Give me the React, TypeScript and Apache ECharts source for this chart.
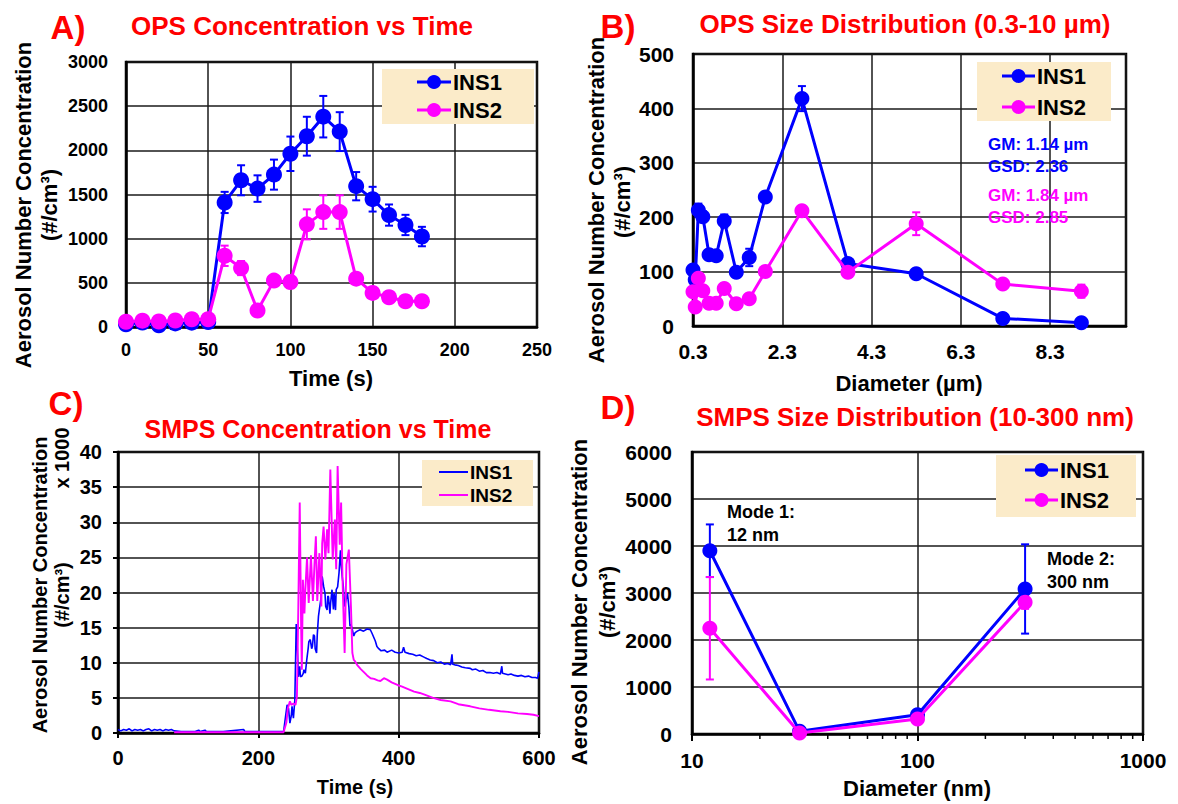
import React, { useEffect, useRef } from "react";
import * as echarts from "echarts";

const FONT = "'Liberation Sans', Arial, Helvetica, sans-serif";
const BLUE = "#0000ff";
const MAGENTA = "#ff00ff";
const RED = "#ff0000";
const LEGEND_BG = "#fbebc9";
const GRIDLINE = "#1a1a1a";

// ---------- Panel A : OPS concentration vs time ----------
const opsTime = [0, 10, 20, 30, 40, 50, 60, 70, 80, 90, 100, 110, 120, 130, 140, 150, 160, 170, 180];
const opsConcIns1 = [30, 50, 19, 41, 49, 56, 1410, 1661, 1567, 1725, 1961, 2160, 2381, 2212, 1594, 1447, 1267, 1155, 1024];
const opsConcIns1Err = [10, 10, 10, 10, 10, 10, 120, 170, 150, 170, 195, 220, 235, 220, 160, 140, 120, 115, 110];
const opsConcIns2 = [60, 72, 62, 74, 88, 88, 806, 667, 187, 525, 510, 1162, 1301, 1301, 547, 386, 337, 292, 292];
const opsConcIns2Err = [10, 10, 10, 10, 10, 10, 115, 80, 20, 40, 70, 170, 190, 190, 60, 30, 25, 25, 25];

// ---------- Panel B : OPS size distribution ----------
const opsDiam = [0.3, 0.35, 0.42, 0.52, 0.66, 0.82, 1.0, 1.27, 1.56, 1.92, 2.74, 3.77, 5.3, 7.24, 9.0];
const opsSizeIns1 = [103, 85, 213, 201, 131, 129, 193, 99, 126, 237, 418, 115, 96, 14, 6];
const opsSizeIns1Err = [8, 5, 12, 10, 6, 6, 12, 5, 16, 6, 23, 5, 4, 3, 3];
const opsSizeIns2 = [63, 35, 88, 65, 42, 42, 69, 41, 50, 100, 212, 99, 188, 77, 64];
const opsSizeIns2Err = [4, 3, 5, 4, 3, 3, 4, 3, 4, 5, 6, 5, 21, 5, 12];

// ---------- Panel C : SMPS concentration vs time (x 1000 #/cm3) ----------
const smpsTimeSeriesIns1: [number, number][] = [
  [0, 0.5], [4, 0.3], [8, 0.5], [12, 0.4], [16, 0.6], [20, 0.3], [24, 0.5], [28, 0.4], [32, 0.5], [36, 0.3],
  [40, 0.5], [44, 0.6], [48, 0.3], [52, 0.5], [56, 0.4], [60, 0.5], [64, 0.3], [68, 0.5], [72, 0.4], [76, 0.5],
  [80, 0.3], [90, 0.2], [100, 0.2], [110, 0.2], [115, 0.4], [117, 0.2], [124, 0.4], [126, 0.2], [150, 0.2],
  [179, 0.5], [181, 0.2], [210, 0.2], [236, 0.2], [239, 2.5], [241, 4.0], [243, 3.5], [245, 1.4], [247, 2.5],
  [248, 3.8], [250, 2.1], [252, 4.7], [253, 10], [254, 15.5], [256, 11], [257, 8], [259, 9.5], [260, 8],
  [262, 8.1], [264, 8.5], [265, 9.0], [267, 8.5], [269, 10.4], [271, 12], [272, 13], [274, 13.3], [276, 12],
  [277, 12.3], [278.6, 14], [280, 13.8], [281, 12], [283, 11.4], [284, 14], [285.7, 16.6], [287, 17.6],
  [289, 19], [291, 22.3], [293, 20.9], [295, 19.9], [296, 18], [298, 17.5], [299, 19.5], [300, 19.4],
  [302, 17], [303, 18.5], [305, 20.4], [307, 17.6], [308, 19.9], [310, 17.5], [311, 20.4], [313, 20.8],
  [315, 22.8], [317, 26], [318, 24], [319.5, 22.3], [321, 21], [323, 18], [325, 19], [327, 19.9], [329, 18],
  [330.6, 15.2], [332, 15.5], [334, 14.7], [336, 13.8], [338, 14.3], [341, 14.5], [345, 14.7], [350, 14.5],
  [355, 14.8], [359.6, 14.7], [362, 14.2], [366.7, 13.1], [369, 12.3], [371.6, 12], [375, 11.7], [380, 11.8],
  [383.5, 11.5], [390, 11.8], [395, 11.5], [400, 11.4], [405, 11.5], [407, 12.2], [409, 11.5], [415, 11.3],
  [420, 11.2], [425, 11.0], [430, 11.1], [436, 10.8], [440, 10.6], [445, 10.4], [450, 10.3], [455, 10.0],
  [460, 10.1], [465, 9.8], [470, 9.9], [474, 9.7], [476, 11.2], [477, 9.8], [480, 9.7], [485, 9.6],
  [490, 9.4], [495, 9.3], [502, 9.2], [505, 9.0], [510, 9.1], [515, 8.8], [520, 8.9], [525, 8.6], [530, 8.6],
  [535, 8.5], [540, 8.6], [545, 8.4], [547, 9.5], [548, 8.5], [552, 8.4], [556, 8.3], [560, 8.4], [565, 8.2],
  [570, 8.1], [575, 8.2], [580, 8.0], [585, 8.1], [590, 7.9], [595, 7.9], [598, 7.8], [600, 8.7],
];
const smpsTimeSeriesIns2: [number, number][] = [
  [80, 0.1], [150, 0.1], [236, 0.1], [240, 1.5], [242, 3.5], [245, 4.5], [247, 4.0], [250, 4.2], [253, 4.0],
  [255, 5.2], [257, 18], [259, 32.8], [261, 15], [262, 9], [263.5, 21.8], [265.7, 17], [267, 20.4],
  [269.4, 25], [271.8, 18.5], [275, 25.3], [277.8, 18.8], [280, 24], [282, 28], [284, 18.8], [287, 25.6],
  [289.8, 18], [291, 27], [293, 29.4], [295.5, 24.7], [298, 29], [300, 25.6], [302.6, 37.5], [306, 24.7],
  [309, 30.4], [311, 23.3], [313, 38], [316, 26.8], [318, 32.8], [320, 21.8], [323, 11.4], [325.5, 24],
  [329, 26.1], [332, 18], [334, 11.4], [336, 10.4], [338, 10.2], [340.7, 9.7], [346, 9.1], [350, 8.7],
  [355, 8.2], [360, 7.8], [365, 7.7], [370, 7.5], [374, 7.4], [379, 7.8], [383.5, 7.6], [390, 7.2],
  [399, 6.8], [405, 6.6], [410, 6.4], [422, 5.9], [430, 5.7], [436, 5.5], [449, 5.0], [460, 4.7],
  [474, 4.5], [485, 4.1], [502, 3.8], [515, 3.5], [529, 3.3], [545, 3.1], [556, 3.0], [570, 2.8],
  [583, 2.7], [592, 2.6], [600, 2.4],
];

// ---------- Panel D : SMPS size distribution ----------
const smpsDiam = [12, 30, 100, 300];
const smpsSizeIns1 = [3899, 57, 410, 3086];
const smpsSizeIns1Err = [560, 40, 80, 950];
const smpsSizeIns2 = [2250, 21, 318, 2803];
const smpsSizeIns2Err = [1090, 20, 60, 140];
const smpsMinorTicks = [20, 30, 40, 50, 60, 70, 80, 90, 200, 300, 400, 500, 600, 700, 800, 900];

// ---------- helpers ----------
const pairs = (xs: number[], ys: number[]) => xs.map((x, i) => [x, ys[i]]);
const triples = (xs: number[], ys: number[], es: number[]) => xs.map((x, i) => [x, ys[i], es[i]]);
const plain = (v: number) => String(v);

function errorBars(idx: number, data: number[][], color: string) {
  return {
    type: "custom",
    xAxisIndex: idx,
    yAxisIndex: idx,
    silent: true,
    z: 2,
    data,
    encode: { x: 0, y: 1 },
    renderItem: (_p: any, api: any) => {
      const x = api.value(0);
      const y = api.value(1);
      const e = api.value(2);
      const hi = api.coord([x, y + e]);
      const lo = api.coord([x, y - e]);
      const w = 4;
      const st = { stroke: color, lineWidth: 2 };
      return {
        type: "group",
        children: [
          { type: "line", shape: { x1: hi[0], y1: hi[1], x2: lo[0], y2: lo[1] }, style: st },
          { type: "line", shape: { x1: hi[0] - w, y1: hi[1], x2: hi[0] + w, y2: hi[1] }, style: st },
          { type: "line", shape: { x1: lo[0] - w, y1: lo[1], x2: lo[0] + w, y2: lo[1] }, style: st },
        ],
      };
    },
  };
}

function markerLine(idx: number, name: string, data: number[][], color: string, z: number, size: number) {
  return {
    type: "line",
    name,
    xAxisIndex: idx,
    yAxisIndex: idx,
    data,
    z,
    symbol: "circle",
    symbolSize: size,
    showSymbol: true,
    itemStyle: { color },
    lineStyle: { color, width: 3 },
  };
}

function axisBase(fontSize: number, margin: number, tickLen: number) {
  return {
    axisLine: { show: true, onZero: false, lineStyle: { color: "#000", width: 2.5 } },
    axisTick: { show: tickLen > 0, inside: false, length: tickLen, lineStyle: { color: "#000", width: 2 } },
    axisLabel: { color: "#000", fontWeight: "bold", fontSize, fontFamily: FONT, margin, formatter: plain },
    splitLine: { show: true, lineStyle: { color: GRIDLINE, width: 1.5 } },
  };
}

function text(t: string, x: number, y: number, size: number, color: string, opts: any = {}) {
  return {
    type: "text",
    x,
    y,
    z: 100,
    rotation: opts.rot || 0,
    style: {
      text: t,
      fill: color,
      fontSize: size,
      fontWeight: "bold",
      fontFamily: FONT,
      textAlign: opts.align || "center",
      textVerticalAlign: "middle",
    },
  };
}

function legend(
  box: [number, number, number, number],
  rows: { y: number; color: string; label: string }[],
  lx1: number,
  lx2: number,
  tx: number,
  size: number,
  marker: boolean,
  lw: number
) {
  const els: any[] = [
    { type: "rect", z: 90, shape: { x: box[0], y: box[1], width: box[2] - box[0], height: box[3] - box[1] }, style: { fill: LEGEND_BG } },
  ];
  rows.forEach((r) => {
    els.push({ type: "line", z: 95, shape: { x1: lx1, y1: r.y, x2: lx2, y2: r.y }, style: { stroke: r.color, lineWidth: lw } });
    if (marker) {
      els.push({ type: "circle", z: 96, shape: { cx: (lx1 + lx2) / 2, cy: r.y, r: 7 }, style: { fill: r.color } });
    }
    els.push(text(r.label, tx, r.y, size, "#000", { align: "left" }));
  });
  return els;
}

const ROT = Math.PI / 2;

const graphics: any[] = [
  // Panel letters and titles
  text("A)", 68, 27, 33, RED),
  text("OPS Concentration vs Time", 302, 26, 26, RED),
  text("B)", 618, 26, 33, RED),
  text("OPS Size Distribution (0.3-10 µm)", 905, 24, 26, RED),
  text("C)", 66, 403, 33, RED),
  text("SMPS Concentration vs Time", 318, 429, 25, RED),
  text("D)", 618, 407, 33, RED),
  text("SMPS Size Distribution (10-300 nm)", 915, 417, 26, RED),
  // Axis names
  text("Aerosol Number Concentration", 23, 205, 22, "#000", { rot: ROT }),
  text("(#/cm³)", 49, 205, 22, "#000", { rot: ROT }),
  text("Time (s)", 331, 378, 22, "#000"),
  text("Aerosol Number Concentration", 596, 200, 22, "#000", { rot: ROT }),
  text("(#/cm³)", 622, 202, 22, "#000", { rot: ROT }),
  text("Diameter (µm)", 909, 383, 22, "#000"),
  text("Aerosol Number Concentration", 40, 585, 20, "#000", { rot: ROT }),
  text("(#/cm³)", 62, 595, 20, "#000", { rot: ROT }),
  text("x 1000", 62, 458, 20, "#000", { rot: ROT }),
  text("Time (s)", 355, 787, 20, "#000"),
  text("Aerosol Number Concentration", 579, 602, 22, "#000", { rot: ROT }),
  text("(#/cm³)", 607, 602, 22, "#000", { rot: ROT }),
  text("Diameter (nm)", 917, 788, 22, "#000"),
  // Annotations
  text("GM: 1.14 µm", 988, 144, 17, BLUE, { align: "left" }),
  text("GSD: 2.36", 988, 166, 17, BLUE, { align: "left" }),
  text("GM: 1.84 µm", 988, 195, 17, MAGENTA, { align: "left" }),
  text("GSD: 2.85", 988, 217, 17, MAGENTA, { align: "left" }),
  text("Mode 1:", 727, 512, 18, "#000", { align: "left" }),
  text("12 nm", 727, 535, 18, "#000", { align: "left" }),
  text("Mode 2:", 1047, 559, 18, "#000", { align: "left" }),
  text("300 nm", 1047, 582, 18, "#000", { align: "left" }),
  // Legends
  ...legend([382, 69, 534, 124], [{ y: 82, color: BLUE, label: "INS1" }, { y: 110, color: MAGENTA, label: "INS2" }], 417, 451, 453, 22, true, 3),
  ...legend([977, 62, 1111, 121], [{ y: 76, color: BLUE, label: "INS1" }, { y: 107, color: MAGENTA, label: "INS2" }], 1002, 1035, 1037, 22, true, 3),
  ...legend([422, 460, 533, 506], [{ y: 472, color: BLUE, label: "INS1" }, { y: 495, color: MAGENTA, label: "INS2" }], 439, 468, 470, 19, false, 2),
  ...legend([996, 455, 1136, 517], [{ y: 470, color: BLUE, label: "INS1" }, { y: 500, color: MAGENTA, label: "INS2" }], 1025, 1058, 1060, 22, true, 3),
];

const gridStyle = { show: true, borderColor: "#000", borderWidth: 2.5, backgroundColor: "transparent" };

const option: any = {
  animation: false,
  backgroundColor: "#ffffff",
  grid: [
    { ...gridStyle, left: 126, top: 62, width: 411, height: 265 },
    { ...gridStyle, left: 693, top: 54, width: 433, height: 272 },
    { ...gridStyle, left: 118, top: 452, width: 421, height: 281 },
    { ...gridStyle, left: 692, top: 452, width: 451, height: 282 },
  ],
  xAxis: [
    { ...axisBase(18, 14, 0), gridIndex: 0, type: "value", min: 0, max: 250, interval: 50 },
    {
      ...axisBase(21, 15, 0),
      gridIndex: 1,
      type: "value",
      min: 0.3,
      max: 10,
      interval: 2,
      axisLabel: {
        ...axisBase(21, 15, 0).axisLabel,
        formatter: (v: number) => (v > 9.9 ? "" : v.toFixed(1)),
      },
    },
    { ...axisBase(20, 15, 5), gridIndex: 2, type: "value", min: 0, max: 600, interval: 200 },
    { ...axisBase(21, 16, 7), gridIndex: 3, type: "log", logBase: 10, min: 10, max: 1000 },
  ],
  yAxis: [
    { ...axisBase(18, 18, 0), gridIndex: 0, type: "value", min: 0, max: 3000, interval: 500 },
    { ...axisBase(21, 19, 0), gridIndex: 1, type: "value", min: 0, max: 500, interval: 100 },
    { ...axisBase(20, 16, 5), gridIndex: 2, type: "value", min: 0, max: 40, interval: 5 },
    { ...axisBase(21, 20, 0), gridIndex: 3, type: "value", min: 0, max: 6000, interval: 1000 },
  ],
  series: [
    // Panel A
    errorBars(0, triples(opsTime, opsConcIns1, opsConcIns1Err), BLUE),
    markerLine(0, "INS1", pairs(opsTime, opsConcIns1), BLUE, 3, 16),
    errorBars(0, triples(opsTime, opsConcIns2, opsConcIns2Err), MAGENTA),
    markerLine(0, "INS2", pairs(opsTime, opsConcIns2), MAGENTA, 5, 16),
    // Panel B
    errorBars(1, triples(opsDiam, opsSizeIns1, opsSizeIns1Err), BLUE),
    markerLine(1, "INS1", pairs(opsDiam, opsSizeIns1), BLUE, 3, 15),
    errorBars(1, triples(opsDiam, opsSizeIns2, opsSizeIns2Err), MAGENTA),
    markerLine(1, "INS2", pairs(opsDiam, opsSizeIns2), MAGENTA, 5, 15),
    // Panel C
    {
      type: "line",
      name: "INS1",
      xAxisIndex: 2,
      yAxisIndex: 2,
      data: smpsTimeSeriesIns1,
      showSymbol: false,
      symbol: "none",
      lineStyle: { color: BLUE, width: 1.6 },
      itemStyle: { color: BLUE },
      z: 3,
    },
    {
      type: "line",
      name: "INS2",
      xAxisIndex: 2,
      yAxisIndex: 2,
      data: smpsTimeSeriesIns2,
      showSymbol: false,
      symbol: "none",
      lineStyle: { color: MAGENTA, width: 1.9 },
      itemStyle: { color: MAGENTA },
      z: 4,
    },
    // Panel D
    errorBars(3, triples(smpsDiam, smpsSizeIns1, smpsSizeIns1Err), BLUE),
    markerLine(3, "INS1", pairs(smpsDiam, smpsSizeIns1), BLUE, 3, 15),
    errorBars(3, triples(smpsDiam, smpsSizeIns2, smpsSizeIns2Err), MAGENTA),
    markerLine(3, "INS2", pairs(smpsDiam, smpsSizeIns2), MAGENTA, 5, 15),
    {
      type: "custom",
      xAxisIndex: 3,
      yAxisIndex: 3,
      silent: true,
      clip: false,
      data: smpsMinorTicks.map((v) => [v, 0]),
      encode: { x: 0, y: 1 },
      renderItem: (_p: any, api: any) => {
        const c = api.coord([api.value(0), 0]);
        return {
          type: "line",
          shape: { x1: c[0], y1: c[1] + 1, x2: c[0], y2: c[1] + 5 },
          style: { stroke: "#000", lineWidth: 1.5 },
        };
      },
    },
  ],
  graphic: { elements: graphics },
};

export default function App() {
  const ref = useRef<HTMLDivElement>(null);
  useEffect(() => {
    document.body.style.margin = "0";
    const chart = echarts.init(ref.current!, null, { renderer: "svg" });
    chart.setOption(option);
    return () => chart.dispose();
  }, []);
  return <div ref={ref} style={{ width: 1178, height: 804, background: "#fff" }} />;
}
